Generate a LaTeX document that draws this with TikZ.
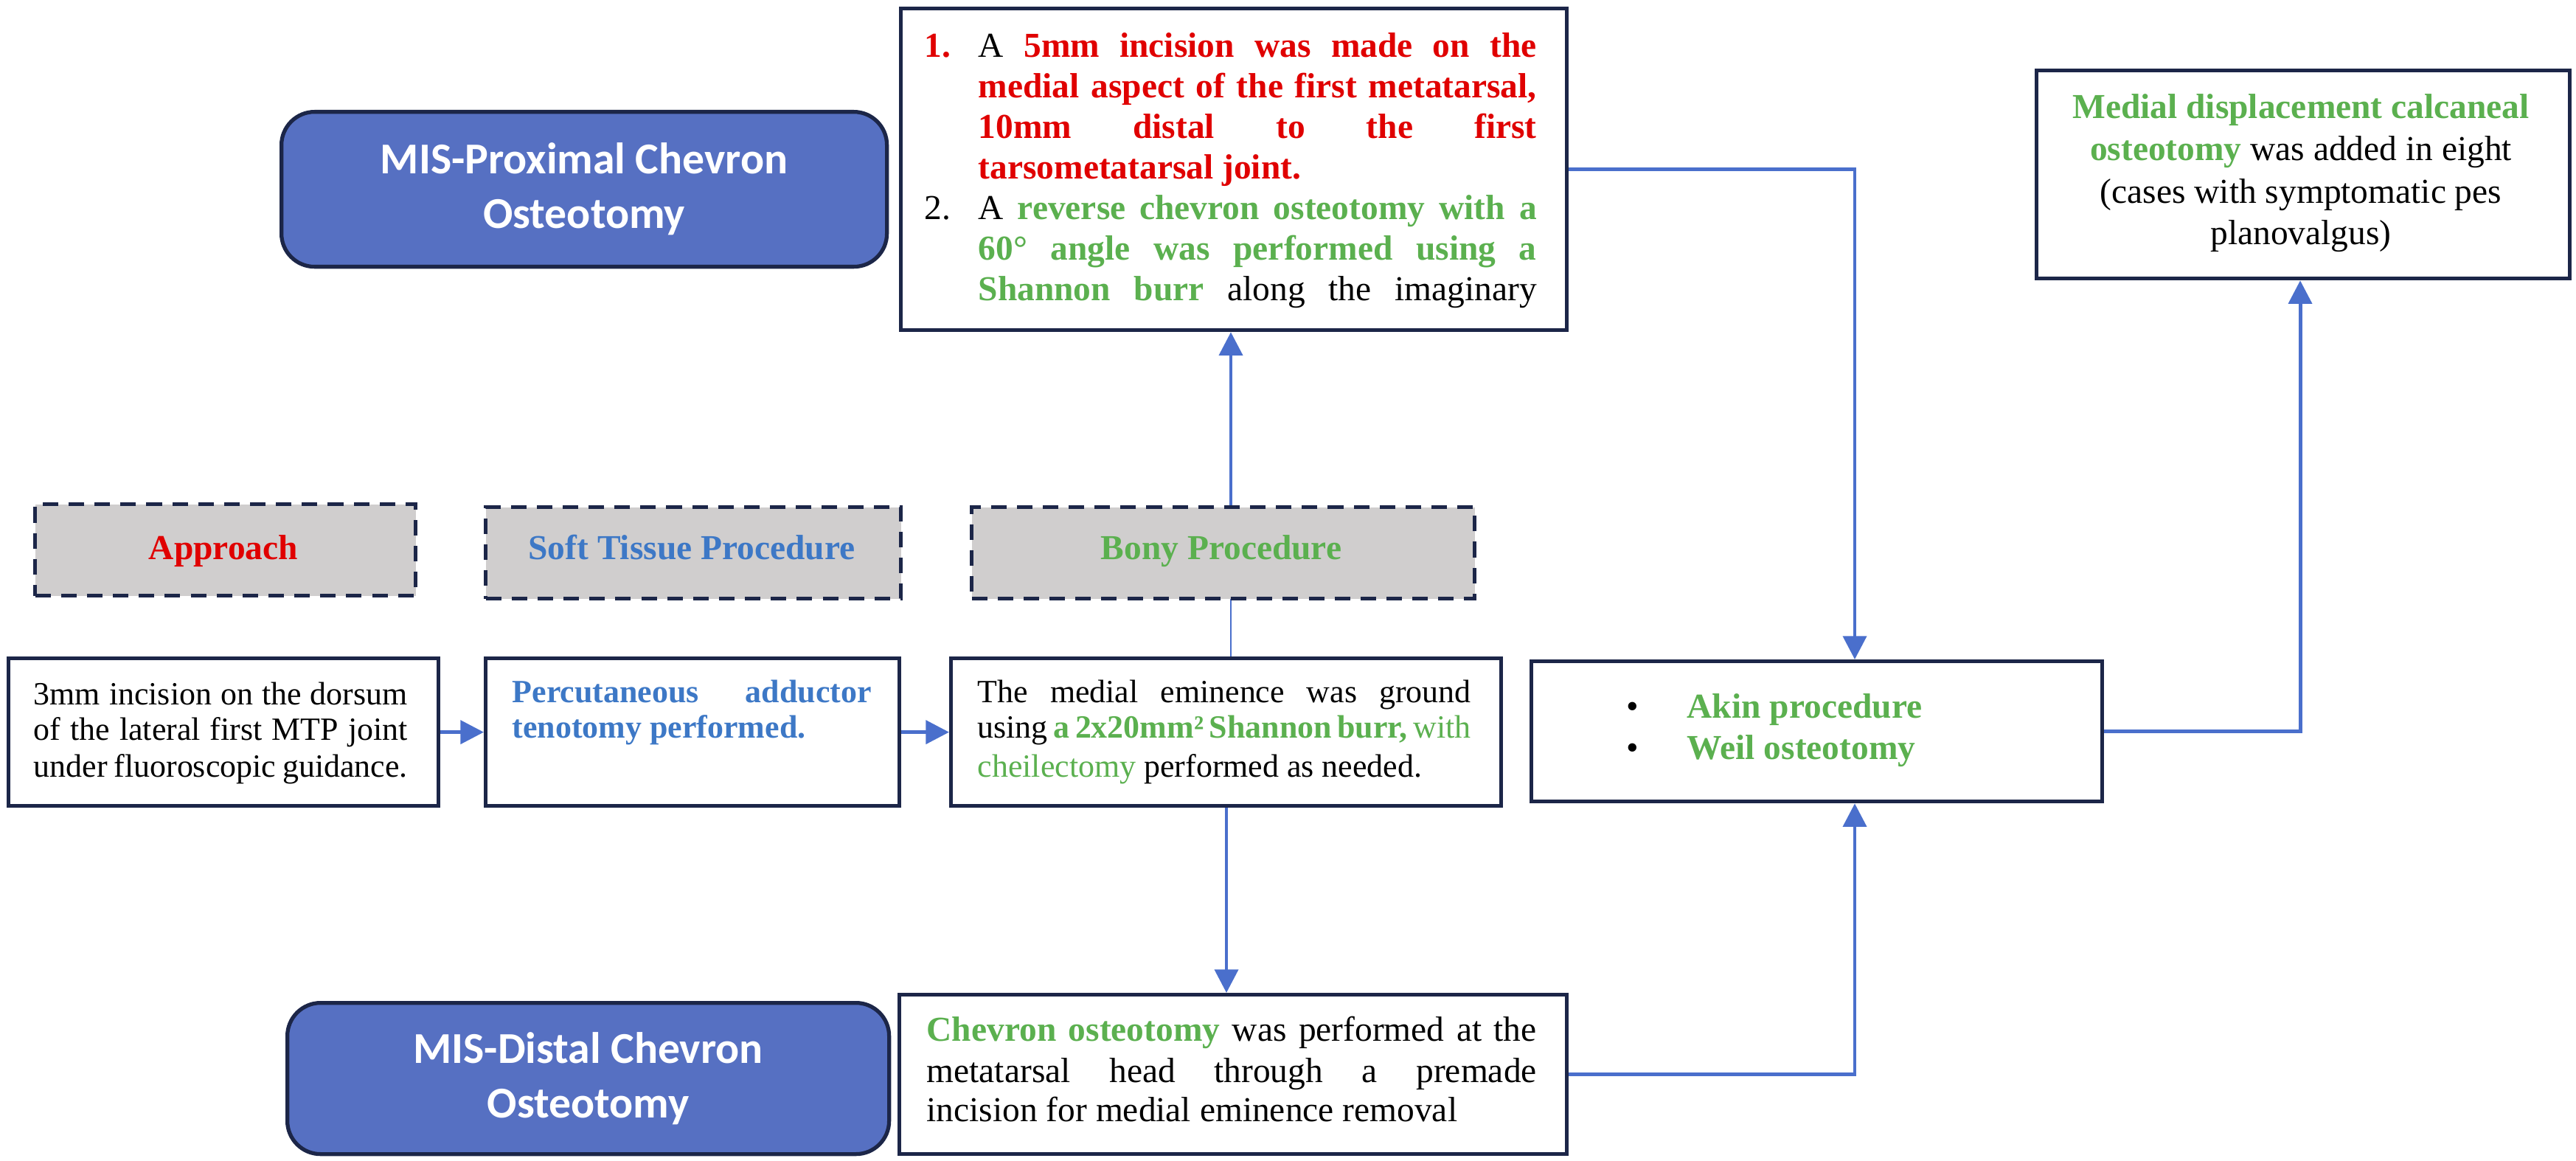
\documentclass[tikz,border=0pt]{standalone}
\usepackage{fontspec}
\setmainfont{Liberation Serif}
\newfontfamily\titlefont{Carlito}
\usetikzlibrary{arrows.meta}
\definecolor{rd}{HTML}{E00000}
\definecolor{gr}{HTML}{5BB04F}
\definecolor{bl}{HTML}{3D78C6}
\definecolor{arr}{HTML}{4A6FCC}
\definecolor{nav}{HTML}{1C2648}
\definecolor{fillb}{HTML}{5670C2}
\definecolor{gry}{HTML}{D0CECE}
\newcommand\JL[2]{\makebox[#1][s]{#2}}
\newcommand\R[1]{\textcolor{rd}{\textbf{#1}}}
\newcommand\G[1]{\textcolor{gr}{\textbf{#1}}}
\begin{document}
\begin{tikzpicture}[x=1cm,y=-1cm,
  box/.style={draw=nav,line width=1.5pt,fill=white,inner sep=0,anchor=north west},
  rbox/.style={draw=nav,line width=1.5pt,fill=fillb,rounded corners=0.45cm,inner sep=0,anchor=north west},
  dbox/.style={draw=nav,line width=1.5pt,dash pattern=on 6pt off 4pt,fill=gry,inner sep=0,anchor=north west},
  ln/.style={anchor=base west,inner sep=0,font=\fontsize{12.5}{14}\selectfont},
  lnb/.style={anchor=base west,inner sep=0,font=\fontsize{13.5}{16}\selectfont},
  ttl/.style={font=\titlefont\bfseries\fontsize{17}{21}\selectfont,text=white,align=center},
  lab/.style={anchor=base,inner sep=0,font=\bfseries\fontsize{13.5}{16}\selectfont},
  con/.style={draw=arr,line width=1.4pt,-{Triangle[width=9pt,length=9pt]}}]
\useasboundingbox (0,0) rectangle (34.93,15.74);
% boxes
\node[box,minimum width=9.03cm,minimum height=4.36cm] (top) at (12.19,0.09) {};
\node[rbox,minimum width=8.21cm,minimum height=2.10cm] (prox) at (3.79,1.49) {};
\node[ttl] (proxt) at (prox.center) {MIS-Proximal Chevron\\Osteotomy};
\node[box,minimum width=7.23cm,minimum height=2.82cm] (med) at (27.59,0.93) {};
\node[box,minimum width=5.83cm,minimum height=2.00cm] (appr) at (0.09,8.90) {};
\node[box,minimum width=5.61cm,minimum height=2.00cm] (soft) at (6.56,8.90) {};
\node[box,minimum width=7.46cm,minimum height=2.00cm] (bony) at (12.87,8.90) {};
\node[box,minimum width=7.74cm,minimum height=1.90cm] (akin) at (20.74,8.94) {};
\node[rbox,minimum width=8.16cm,minimum height=2.05cm] (dist) at (3.87,13.57) {};
\node[ttl] (distt) at (dist.center) {MIS-Distal Chevron\\Osteotomy};
\node[box,minimum width=9.05cm,minimum height=2.16cm] (chev) at (12.17,13.46) {};
% connectors
\coordinate (xa) at (16.69,0);
\coordinate (xb) at (16.63,0);
\coordinate (xc) at (25.15,0);
\coordinate (xd) at (31.19,0);
\draw[con] (appr.east) -- (soft.west);
\draw[con] (soft.east) -- (bony.west);
\draw[draw=arr,line width=0.8pt] (bony.north -| xa) -- (16.69,6.85);
\draw[con] (16.69,6.85) -- (top.south -| xa);
\draw[con] (bony.south -| xb) -- (chev.north -| xb);
\draw[con] (top.east) -| (akin.north -| xc);
\draw[con] (chev.east) -| (akin.south -| xc);
\draw[con] (akin.east) -| (med.south -| xd);
% dashed headers
\node[dbox,minimum width=5.16cm,minimum height=1.24cm] (h1) at (0.45,6.81) {};
\node[dbox,minimum width=5.63cm,minimum height=1.24cm] (h2) at (6.56,6.85) {};
\node[dbox,minimum width=6.82cm,minimum height=1.24cm] (h3) at (13.15,6.85) {};
\node[lab,text=rd] (h1t) at (3.03,7.58) {Approach};
\node[lab,text=bl] (h2t) at (9.38,7.58) {Soft Tissue Procedure};
\node[lab,text=gr] (h3t) at (16.56,7.58) {Bony Procedure};
% top box text
\node[lnb] (n1) at (12.53,0.78) {\R{1.}};
\node[lnb] (t1) at (13.26,0.78) {\JL{7.57cm}{A \R{5mm incision was made on the}}};
\node[lnb] (t2) at (13.26,1.33) {\JL{7.57cm}{\R{medial aspect of the first metatarsal,}}};
\node[lnb] (t3) at (13.26,1.88) {\JL{7.57cm}{\R{10mm distal to the first}}};
\node[lnb] (t4) at (13.26,2.43) {\R{tarsometatarsal joint.}};
\node[lnb] (n2) at (12.53,2.98) {2.};
\node[lnb] (t5) at (13.26,2.98) {\JL{7.57cm}{A \G{reverse chevron osteotomy with a}}};
\node[lnb] (t6) at (13.26,3.53) {\JL{7.57cm}{\G{60° angle was performed using a}}};
\node[lnb] (t7) at (13.26,4.08) {\JL{7.57cm}{\G{Shannon burr} along the imaginary}};
% medial box text
\node[lnb,anchor=base] (m1) at (31.20,1.61) {\G{Medial displacement calcaneal}};
\node[lnb,anchor=base] (m2) at (31.20,2.18) {\G{osteotomy} was added in eight};
\node[lnb,anchor=base] (m3) at (31.20,2.76) {(cases with symptomatic pes};
\node[lnb,anchor=base] (m4) at (31.20,3.32) {planovalgus)};
% approach text
\node[ln] (a1) at (0.45,9.55) {\JL{5.07cm}{3mm incision on the dorsum}};
\node[ln] (a2) at (0.45,10.03) {\JL{5.07cm}{of the lateral first MTP joint}};
\node[ln] (a3) at (0.45,10.53) {\JL{5.07cm}{under fluoroscopic guidance.}};
% soft text
\node[ln] (s1) at (6.94,9.52) {\JL{4.87cm}{\textcolor{bl}{\textbf{Percutaneous adductor}}}};
\node[ln] (s2) at (6.94,10.00) {\textcolor{bl}{\textbf{tenotomy performed.}}};
% bony text
\node[ln] (b1) at (13.25,9.52) {\JL{6.69cm}{The medial eminence was ground}};
\node[ln] (b2) at (13.25,10.00) {\JL{6.69cm}{using \G{a 2x20mm² Shannon burr,} \textcolor{gr}{with}}};
\node[ln] (b3) at (13.25,10.53) {\textcolor{gr}{cheilectomy} performed as needed.};
% akin text
\node[lnb] (k1) at (22.05,9.73) {\textbullet};
\node[lnb] (k2) at (22.87,9.73) {\G{Akin procedure}};
\node[lnb] (k3) at (22.05,10.29) {\textbullet};
\node[lnb] (k4) at (22.87,10.29) {\G{Weil osteotomy}};
% chevron text
\node[lnb] (c1) at (12.56,14.11) {\JL{8.27cm}{\G{Chevron osteotomy} was performed at the}};
\node[lnb] (c2) at (12.56,14.67) {\JL{8.27cm}{metatarsal head through a premade}};
\node[lnb] (c3) at (12.56,15.20) {incision for medial eminence removal};
\end{tikzpicture}
\end{document}
